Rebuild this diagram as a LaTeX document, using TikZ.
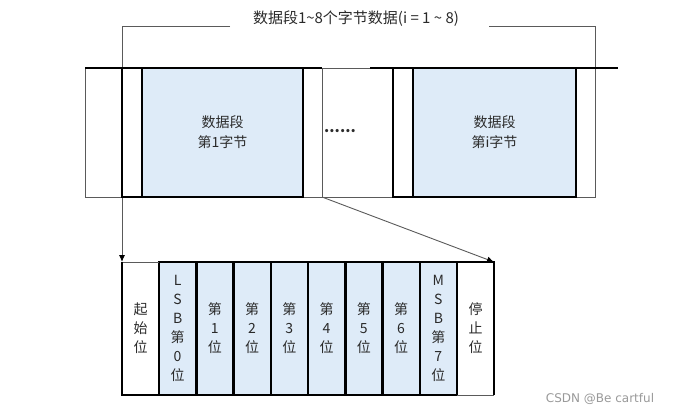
\documentclass[tikz,border=0pt]{standalone}
\usepackage{fontspec}
\setmainfont{Noto Sans CJK SC}
\newfontfamily\wmfont{DejaVu Sans}
\usetikzlibrary{arrows.meta}
\definecolor{cellblue}{HTML}{DEEBF8}
\definecolor{txt}{HTML}{2A2A2A}
\definecolor{thingray}{HTML}{5A5A5A}
\begin{document}
\begin{tikzpicture}[x=1pt,y=-1pt,
  thinln/.style={draw=thingray,line width=0.9pt},
  thickln/.style={draw=black,line width=2.5pt,line join=miter},
  bluecell/.style={fill=cellblue,draw=black,line width=2.5pt,inner sep=0pt,outer sep=0pt,anchor=north west,text=txt,align=center},
  plaincell/.style={inner sep=0pt,outer sep=0pt,anchor=north west,text=txt,align=center},
  thinbox/.style={draw=thingray,line width=0.9pt,inner sep=0pt,outer sep=0pt,anchor=north west},
  lbl/.style={text=txt,font=\fontsize{14}{20}\selectfont},
  ttl/.style={text=txt,font=\fontsize{15}{20}\selectfont},
  bitfont/.style={font=\fontsize{14}{19}\selectfont},
  tip/.style={-{Latex[length=7pt,width=6pt,color=black]}}
]
\useasboundingbox (0,0) rectangle (677,415);

% ---------- top row: thin frame ----------
\node[thinbox,minimum width=37pt,minimum height=129pt] (idle) at (85,68) {};
\node[thinbox,minimum width=19pt,minimum height=129pt] (st1) at (303,68) {};
\node[thinbox,minimum width=20pt,minimum height=129pt] (g2) at (393,68) {};
\node[thinbox,minimum width=19pt,minimum height=129pt] (st2) at (576,68) {};
\draw[thinln] (st1.north east) -- (g2.north west);
\draw[thinln] (st1.south east) -- (g2.south west);

% ---------- title and bracket ----------
\node[ttl,inner sep=2pt] (title) at (356,19) {数据段1\textasciitilde8个字节数据(i = 1 \textasciitilde{} 8)};
\coordinate (bl) at (230,26);
\coordinate (blc) at (122,26);
\coordinate (br) at (489,26);
\coordinate (brc) at (595,26);
\draw[thinln] (bl) -- (blc);
\draw[thinln] (br) -- (brc) -- (st2.north east);

% ---------- lower row nodes ----------
\node[plaincell,bitfont,minimum width=37pt,minimum height=133pt] (start) at (122,262) {起\\始\\位};
\node[bluecell,bitfont,minimum width=37.25pt,minimum height=133pt] (b0) at (159,262) {L\\S\\B\\第\\0\\位};
\node[bluecell,bitfont,minimum width=37.25pt,minimum height=133pt] (b1) at (196.25,262) {第\\1\\位};
\node[bluecell,bitfont,minimum width=37.25pt,minimum height=133pt] (b2) at (233.5,262) {第\\2\\位};
\node[bluecell,bitfont,minimum width=37.25pt,minimum height=133pt] (b3) at (270.75,262) {第\\3\\位};
\node[bluecell,bitfont,minimum width=37.25pt,minimum height=133pt] (b4) at (308,262) {第\\4\\位};
\node[bluecell,bitfont,minimum width=37.25pt,minimum height=133pt] (b5) at (345.25,262) {第\\5\\位};
\node[bluecell,bitfont,minimum width=37.25pt,minimum height=133pt] (b6) at (382.5,262) {第\\6\\位};
\node[bluecell,bitfont,minimum width=37.25pt,minimum height=133pt] (b7) at (419.75,262) {M\\S\\B\\第\\7\\位};
\node[plaincell,bitfont,minimum width=37pt,minimum height=133pt] (stop) at (457,262) {停\\止\\位};

% arrows
\draw[thinln,tip] (blc) -- (start.north west);
\draw[thinln,tip] (st1.south east) -- (stop.north east);

% ---------- top row: signal (thick) ----------
\coordinate (s1) at (122,68);
\draw[thickln] (idle.north west) -- (st1.north east);
\draw[thickln] (s1) -- (idle.south east) -- (st1.south west);
\draw[thickln] (370,68) -- (g2.north west) -- (g2.south west) -- (g2.south east);
\draw[thickln] (g2.north west) -- (g2.north east);
\draw[thickln] (st2.north west) -- (618,68);

\node[bluecell,lbl,minimum width=161pt,minimum height=129pt] (d1) at (142,68) {数据段\\第1字节};
\node[bluecell,lbl,minimum width=163pt,minimum height=129pt] (di) at (413,68) {数据段\\第i字节};

\node[text=txt,font=\bfseries\fontsize{15}{15}\selectfont,inner sep=0pt] (dots) at (340,131) {......};

% lower row edges
\draw[thinln] (start.north west) -- (start.north east);
\draw[thickln] (start.north west) -- (start.south west) -- (start.south east);
\draw[thickln] (stop.north west) -- (stop.north east) -- (stop.south east);
\draw[thinln] (stop.south west) -- (stop.south east);

% watermark
\node[text=black!40,font=\wmfont\fontsize{12}{12}\selectfont,inner sep=0pt] (wm) at (600,399) {CSDN @Be cartful};
\end{tikzpicture}
\end{document}
